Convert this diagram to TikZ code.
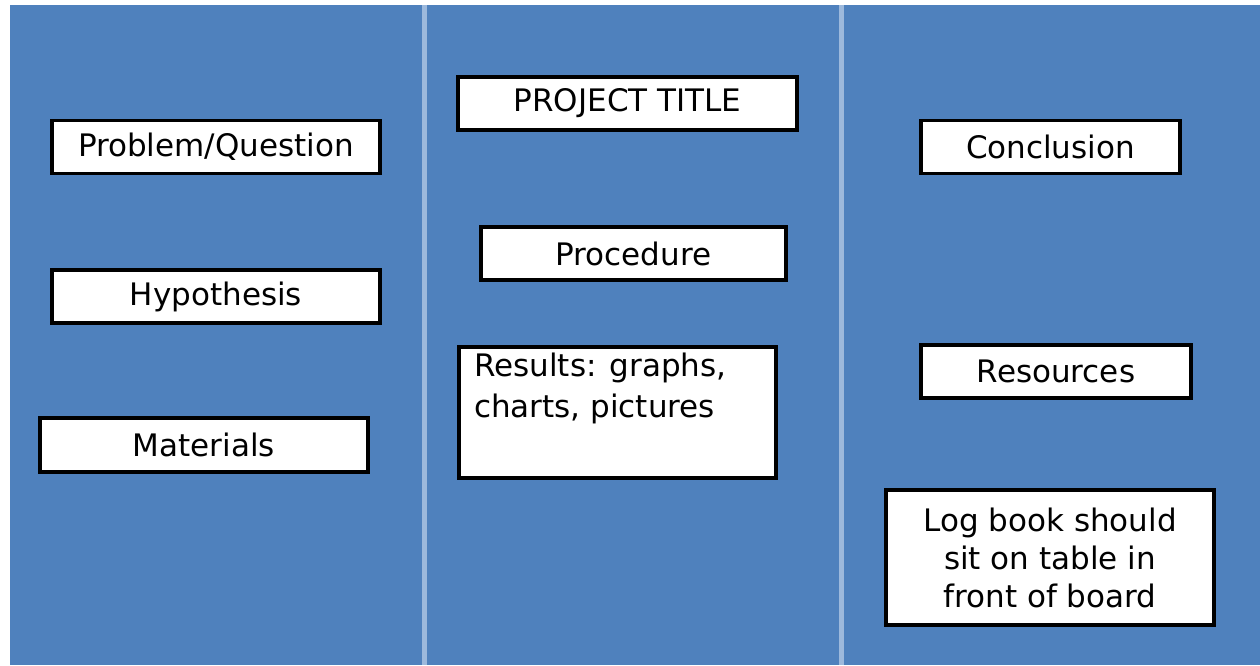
\documentclass[tikz,border=0pt]{standalone}
\usepackage{fontspec}
\setmainfont{DejaVu Sans}
\definecolor{panelblue}{HTML}{4F81BD}
\definecolor{divblue}{HTML}{9DB9DC}
\tikzset{
  card/.style={draw=black, line width=3.5pt, fill=white, inner sep=0pt, font=\fontsize{31}{38}\selectfont, text=black},
  divider/.style={draw=divblue, line width=5pt}
}
\begin{document}
\begin{tikzpicture}[x=1pt,y=-1pt]
\useasboundingbox (0,0) rectangle (1260,665);
\fill[white] (0,0) rectangle (1260,665);
\fill[panelblue] (10,5) rectangle (1260,665);
\coordinate (d1t) at (424,5); \coordinate (d1b) at (424,665);
\coordinate (d2t) at (841,5); \coordinate (d2b) at (841,665);
\draw[divider] (d1t) -- (d1b);
\draw[divider] (d2t) -- (d2b);
% left column
\node[card, minimum width=328pt, minimum height=53pt] (problem) at (216,147) {Problem/Question};
\node[card, minimum width=328pt, minimum height=53pt] (hyp) at (216,296.5) {Hypothesis};
\node[card, minimum width=328pt, minimum height=54pt] (mat) at (204,445) {Materials};
% middle column
\node[card, minimum width=339pt, minimum height=53pt] (title) at (627.5,103.5) {PROJECT TITLE};
\node[card, minimum width=305pt, minimum height=53pt] (proc) at (633.5,253.5) {Procedure};
\node[card, minimum width=317pt, minimum height=131pt, anchor=north west] (res) at (457,345) {};
\node[font=\fontsize{31}{41}\selectfont, align=left, anchor=north west, inner sep=0pt, text=black] (restext) at (474,353) {Results: graphs,\\charts, pictures};
% right column
\node[card, minimum width=259pt, minimum height=53pt] (concl) at (1050.5,147) {Conclusion};
\node[card, minimum width=270pt, minimum height=53pt] (resrc) at (1056,371.5) {Resources};
\node[card, minimum width=328pt, minimum height=135pt, align=center] (log) at (1050,557.5) {Log book should\\sit on table in\\front of board};
\end{tikzpicture}
\end{document}
